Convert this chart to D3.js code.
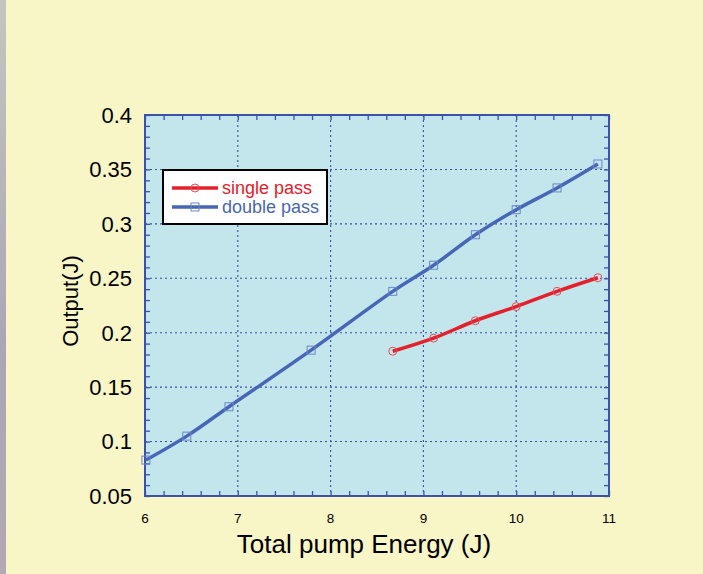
<!DOCTYPE html>
<html>
<head>
<meta charset="utf-8">
<script src="https://cdn.jsdelivr.net/npm/d3@7"></script>
<style>
  body { margin: 0; background: #f8f5c6; }
  svg { display: block; font-family: "Liberation Sans", Arial, sans-serif; }
</style>
</head>
<body>
<div id="chart"></div>
<script>
// data
var double_x = [6.01, 6.45, 6.905, 7.79, 8.67, 9.11, 9.56, 10.0, 10.44, 10.88]
var double_y = [0.083, 0.105, 0.132, 0.184, 0.238, 0.262, 0.290, 0.313, 0.333, 0.355]
var single_x = [8.67, 9.11, 9.56, 10.0, 10.44, 10.88]
var single_y = [0.183, 0.195, 0.211, 0.224, 0.238, 0.2505]
var x_ticks = [6, 7, 8, 9, 10, 11]
var y_ticks = [0.05, 0.1, 0.15, 0.2, 0.25, 0.3, 0.35, 0.4]
var series_names = ["single pass", "double pass"]

var W = 703, H = 574
var margin = { top: 115, left: 145, right: 94, bottom: 78 }
var width = W - margin.left - margin.right,
    height = H - margin.top - margin.bottom

var red = "#e3202b", blue = "#4766b5"

var svg = d3.select("#chart")
    .append("svg")
    .attr("width", W)
    .attr("height", H)

// page background + the grey strip on the left
svg.append("rect").attr("width", W).attr("height", H).attr("fill", "#f8f5c6")
var grad = svg.append("defs").append("linearGradient")
    .attr("id", "strip").attr("x1", 0).attr("y1", 0).attr("x2", 0).attr("y2", 1)
grad.append("stop").attr("offset", "0%").attr("stop-color", "#c3c6c0")
grad.append("stop").attr("offset", "60%").attr("stop-color", "#a9a7b7")
grad.append("stop").attr("offset", "100%").attr("stop-color", "#b1a9b3")
svg.append("rect").attr("width", 6).attr("height", H).attr("fill", "url(#strip)")

var g = svg.append("g")
    .attr("transform", "translate(" + margin.left + "," + margin.top + ")")

var x = d3.scaleLinear().domain([6, 11]).range([0, width])
var y = d3.scaleLinear().domain([0.05, 0.4]).range([height, 0])

g.append("rect").attr("width", width).attr("height", height).attr("fill", "#c2e6ec")

// dashed grid
g.selectAll(".vgrid")
    .data(x_ticks.slice(1, -1))
    .enter().append("line")
    .attr("x1", d => x(d)).attr("x2", d => x(d))
    .attr("y1", 0).attr("y2", height)
    .attr("stroke", "#3a4ea3").attr("stroke-width", 1.1).attr("stroke-dasharray", "2,3")
g.selectAll(".hgrid")
    .data(y_ticks.slice(1, -1))
    .enter().append("line")
    .attr("y1", d => y(d)).attr("y2", d => y(d))
    .attr("x1", 0).attr("x2", width)
    .attr("stroke", "#3a4ea3").attr("stroke-width", 1.1).attr("stroke-dasharray", "2,3")

// inward ticks on all four sides
var frame = "#3c52a8"
var xAxis = d3.axisBottom(x).tickValues(d3.range(6, 11.001, 0.2)).tickSize(-5).tickFormat("")
var xAxisTop = d3.axisTop(x).tickValues(d3.range(6, 11.001, 0.2)).tickSize(-5).tickFormat("")
var yAxis = d3.axisLeft(y).tickValues(d3.range(0.05, 0.4001, 0.01)).tickSize(-5).tickFormat("")
var yAxisRight = d3.axisRight(y).tickValues(d3.range(0.05, 0.4001, 0.01)).tickSize(-5).tickFormat("")

g.append("g").attr("transform", "translate(0," + height + ")").call(xAxis)
g.append("g").call(xAxisTop)
g.append("g").call(yAxis)
g.append("g").attr("transform", "translate(" + width + ",0)").call(yAxisRight)
g.selectAll(".domain").remove()
g.selectAll(".tick line").attr("stroke", frame).attr("stroke-width", 1.3)

g.append("rect").attr("width", width).attr("height", height)
    .attr("fill", "none").attr("stroke", frame).attr("stroke-width", 2)

// tick labels
g.selectAll(".xlab")
    .data(x_ticks)
    .enter().append("text")
    .attr("x", d => x(d)).attr("y", height + 27)
    .attr("text-anchor", "middle")
    .attr("font-size", "13.5px")
    .text(d => d)
g.selectAll(".ylab")
    .data(y_ticks)
    .enter().append("text")
    .attr("x", -13).attr("y", d => y(d))
    .attr("dy", "0.36em")
    .attr("text-anchor", "end")
    .attr("font-size", "22px")
    .text(d => d)

// axis titles
svg.append("text")
    .attr("x", 364).attr("y", 553)
    .attr("text-anchor", "middle")
    .attr("font-size", "26px")
    .text("Total pump Energy (J)")
svg.append("text")
    .attr("transform", "translate(78,301) rotate(-90)")
    .attr("text-anchor", "middle")
    .attr("font-size", "22px")
    .text("Output(J)")

// lines
var double_data = double_x.map((d, i) => [d, double_y[i]])
var single_data = single_x.map((d, i) => [d, single_y[i]])
var line = d3.line().x(d => x(d[0])).y(d => y(d[1])).curve(d3.curveCatmullRom)

g.append("path").datum(double_data)
    .attr("d", line).attr("fill", "none").attr("stroke", blue).attr("stroke-width", 3.5)
g.append("path").datum(single_data)
    .attr("d", line).attr("fill", "none").attr("stroke", red).attr("stroke-width", 3.5)

g.selectAll(".sq")
    .data(double_data)
    .enter().append("rect")
    .attr("x", d => x(d[0]) - 4).attr("y", d => y(d[1]) - 4)
    .attr("width", 8).attr("height", 8)
    .attr("fill", "none").attr("stroke", "#6a86c9").attr("stroke-width", 1)
g.selectAll(".ci")
    .data(single_data)
    .enter().append("circle")
    .attr("cx", d => x(d[0])).attr("cy", d => y(d[1])).attr("r", 4)
    .attr("fill", "none").attr("stroke", "#ea4a55").attr("stroke-width", 1)

// legend
var legend = svg.append("g")
legend.append("rect")
    .attr("x", 163).attr("y", 170).attr("width", 164).attr("height", 54)
    .attr("fill", "white").attr("stroke", "black").attr("stroke-width", 2)
var leg_colors = [red, blue]
series_names.forEach(function(name, i) {
    var ly = 188 + i * 19
    legend.append("line")
        .attr("x1", 172).attr("x2", 218).attr("y1", ly).attr("y2", ly)
        .attr("stroke", leg_colors[i]).attr("stroke-width", 3.5)
    if (i == 0) {
        legend.append("circle").attr("cx", 195).attr("cy", ly).attr("r", 4)
            .attr("fill", "none").attr("stroke", "#ea4a55")
    } else {
        legend.append("rect").attr("x", 191).attr("y", ly - 4).attr("width", 8).attr("height", 8)
            .attr("fill", "none").attr("stroke", "#6a86c9")
    }
    legend.append("text")
        .attr("x", 222).attr("y", ly).attr("dy", "0.35em")
        .attr("font-size", "18px")
        .attr("fill", leg_colors[i])
        .text(name)
})
</script>
</body>
</html>
